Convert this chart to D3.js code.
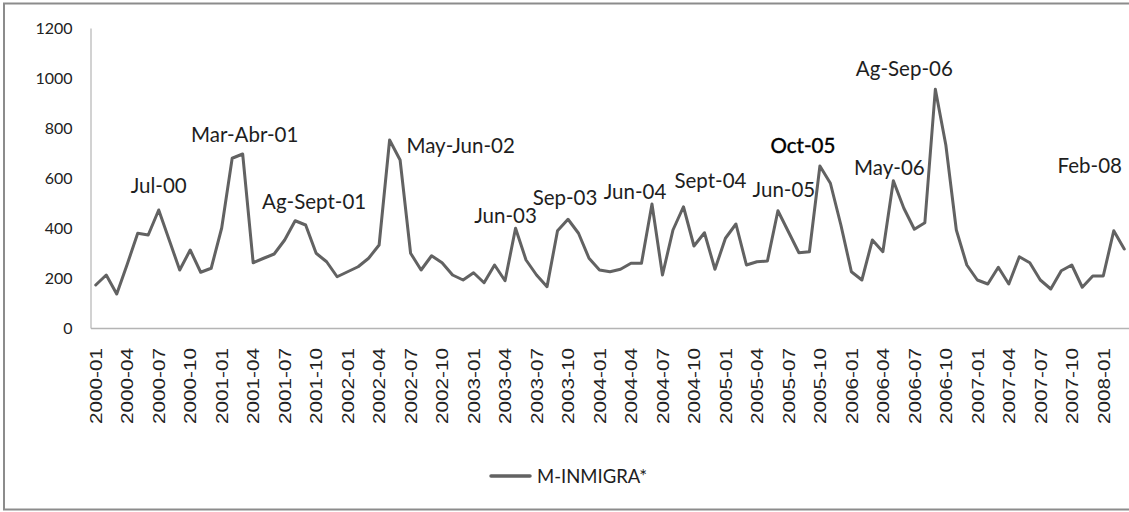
<!DOCTYPE html>
<html>
<head>
<meta charset="utf-8">
<script src="https://cdn.jsdelivr.net/npm/d3@7"></script>
<style>
  html, body { margin: 0; padding: 0; background: #ffffff; }
  svg { display: block; }
</style>
</head>
<body>
<script>
// Monthly series M-INMIGRA*, 2000-01 .. 2008-03
const months = [];
for (let yr = 2000; yr <= 2008; yr++) {
  for (let m = 1; m <= 12; m++) {
    if (yr === 2008 && m > 3) break;
    months.push(yr + "-" + String(m).padStart(2, "0"));
  }
}

const values = [
  172, 212, 136, 255, 379, 372, 472, 352, 232, 312, 223, 239,   // 2000
  400, 679, 696, 261, 279, 296, 352, 429, 412, 299, 265, 205,   // 2001
  225, 245, 279, 332, 752, 672, 299, 232, 289, 261, 212, 192,   // 2002
  221, 181, 252, 189, 399, 272, 212, 165, 389, 435, 379, 279,   // 2003
  232, 225, 235, 259, 259, 496, 212, 392, 485, 328, 381, 235,   // 2004
  359, 416, 252, 265, 268, 469, 385, 301, 305, 648, 579, 412,   // 2005
  225, 192, 352, 305, 589, 479, 395, 421, 955, 732, 392, 252,   // 2006
  192, 176, 243, 176, 285, 261, 192, 156, 229, 252, 163, 208,   // 2007
  208, 389, 316                                                 // 2008
];

const yTicks = [0, 200, 400, 600, 800, 1000, 1200];
const xTickLabels = months.filter((d, i) => i % 3 === 0);

const seriesName = "M-INMIGRA*";

// Peak annotations: text and the month it refers to
const noteTexts  = ["Jul-00", "Mar-Abr-01", "Ag-Sept-01", "May-Jun-02", "Jun-03", "Sep-03",
                    "Jun-04", "Sept-04", "Jun-05", "Oct-05", "May-06", "Ag-Sep-06", "Feb-08"];
const noteMonths = ["2000-07", "2001-03", "2001-08", "2002-05", "2003-05", "2003-10",
                    "2004-06", "2004-09", "2005-06", "2005-10", "2006-05", "2006-09", "2008-02"];

// ---- layout ----
const W = 1129, H = 512;
const plot = { left: 90.5, right: 1129.5, top: 28, bottom: 328 };
// label offsets (px) from the annotated point
const noteOffsets = [[0, -17], [2, -12], [19, -12], [71, 13], [-10, -5], [-3, -14],
                     [-17, -5], [27, -19], [6, -14], [-17, -13], [-4, -6], [-31, -13], [-24, -58]];

const svg = d3.select("body").append("svg")
  .attr("width", W).attr("height", H);

// chart frame (right side runs past the edge)
svg.append("rect")
  .attr("x", 4).attr("y", 3.5)
  .attr("width", W + 20).attr("height", 506)
  .attr("fill", "#ffffff")
  .attr("stroke", "#8c8c8c").attr("stroke-width", 2);

const x = d3.scalePoint().domain(months).range([plot.left, plot.right]).padding(0.5);
const y = d3.scaleLinear().domain([0, 1200]).range([plot.bottom, plot.top]);

// y axis
const yAxis = svg.append("g")
  .attr("transform", `translate(${plot.left},0)`)
  .call(d3.axisLeft(y).tickValues(yTicks).tickSize(0).tickPadding(18).tickFormat(d3.format("d")));
yAxis.select(".domain").attr("stroke", "#b4b4b4").attr("stroke-width", 1.2);
yAxis.selectAll("text")
  .attr("font-family", "Lato, 'Open Sans', sans-serif")
  .attr("font-size", 16)
  .attr("fill", "#222");

// x axis
const xAxis = svg.append("g")
  .attr("transform", `translate(0,${plot.bottom})`)
  .call(d3.axisBottom(x).tickValues(xTickLabels).tickSize(0).tickPadding(0));
xAxis.select(".domain").attr("stroke", "#b4b4b4").attr("stroke-width", 1.5);
xAxis.selectAll("text")
  .attr("font-family", "'Liberation Sans', Arial, sans-serif")
  .attr("font-size", 16)
  .attr("fill", "#222")
  .attr("text-anchor", "end")
  .attr("transform", "rotate(-90)")
  .attr("x", -20)
  .attr("y", 0)
  .attr("dy", "0.36em")
  .attr("textLength", 76)
  .attr("lengthAdjust", "spacingAndGlyphs");

// series line
const line = d3.line()
  .x((d, i) => x(months[i]))
  .y(d => y(d))
  .curve(d3.curveLinear);

svg.append("path")
  .datum(values)
  .attr("d", line)
  .attr("fill", "none")
  .attr("stroke", "#626262")
  .attr("stroke-width", 3)
  .attr("stroke-linejoin", "round")
  .attr("stroke-linecap", "round");

// annotations
svg.append("g").selectAll("text")
  .data(noteTexts)
  .join("text")
  .attr("x", (d, i) => x(noteMonths[i]) + noteOffsets[i][0])
  .attr("y", (d, i) => y(values[months.indexOf(noteMonths[i])]) + noteOffsets[i][1])
  .attr("text-anchor", "middle")
  .attr("font-family", "Lato, 'Open Sans', sans-serif")
  .attr("font-size", 20.5)
  .attr("fill", (d) => d === "Oct-05" ? "#000" : "#1e1e1e")
  .attr("stroke", (d) => d === "Oct-05" ? "#000" : "none")
  .attr("stroke-width", 0.4)
  .text(d => d);

// legend
const legend = svg.append("g").attr("transform", "translate(491,476)");
legend.append("line")
  .attr("x1", 0).attr("x2", 39).attr("y1", 0).attr("y2", 0)
  .attr("stroke", "#626262").attr("stroke-width", 3.5).attr("stroke-linecap", "round");
legend.append("text")
  .attr("x", 46).attr("y", 7)
  .attr("font-family", "Lato, 'Open Sans', sans-serif")
  .attr("font-size", 18.5)
  .attr("fill", "#1e1e1e")
  .text(seriesName);
</script>
</body>
</html>
